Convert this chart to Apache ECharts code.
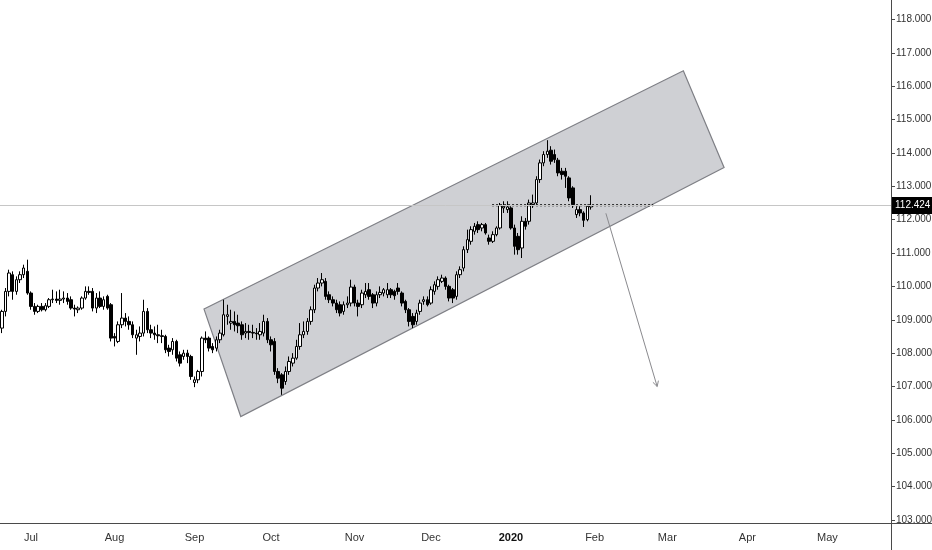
<!DOCTYPE html>
<html>
<head>
<meta charset="utf-8">
<script src="https://cdn.jsdelivr.net/npm/echarts@6.0.0/dist/echarts.min.js"></script>
<style>
  html, body { margin: 0; padding: 0; background: #fff; }
  #chart { width: 932px; height: 550px; }
</style>
</head>
<body>
<div id="chart"></div>
<script>
// daily candles, weekdays only, starting 2019-06-19
var firstDay = [2019, 5, 19];
var totalSlots = 245;   // data + empty future slots up to the right axis
var monthNames = ['2020', 'Feb', 'Mar', 'Apr', 'May', 'Jun', 'Jul', 'Aug', 'Sep', 'Oct', 'Nov', 'Dec'];

var opens = [
  108.75, 109.25, 109.85, 110.35, 109.85, 110.20, 110.35, 110.45, 109.80, 109.40,
  109.25, 109.40, 109.30, 109.40, 109.60, 109.62, 109.58, 109.62, 109.65, 109.60,
  109.35, 109.30, 109.35, 109.65, 109.85, 109.85, 109.35, 109.65, 109.40, 109.70,
  109.45, 108.50, 108.35, 108.85, 109.05, 108.95, 108.85, 108.45, 108.50, 108.60,
  109.25, 108.70, 108.60, 108.55, 108.52, 108.50, 108.15, 108.10, 108.35, 107.95,
  107.90, 108.00, 107.90, 107.12, 107.20, 107.45, 108.45, 108.45, 108.20, 108.15,
  108.40, 108.55, 109.10, 108.90, 108.95, 108.90, 108.85, 108.60, 108.65, 108.62,
  108.60, 108.55, 108.60, 108.95, 108.40, 108.35, 107.45, 107.35, 107.15, 107.45,
  107.70, 107.85, 108.20, 108.55, 108.65, 108.95, 109.30, 109.95, 110.10, 110.15,
  109.75, 109.60, 109.50, 109.45, 109.25, 109.45, 109.50, 109.98, 109.50, 109.45,
  109.75, 109.90, 109.75, 109.50, 109.75, 109.80, 109.75, 109.90, 109.85, 109.95,
  109.80, 109.55, 109.30, 109.10, 108.95, 109.25, 109.55, 109.60, 109.50, 109.85,
  110.00, 110.15, 110.25, 110.00, 109.90, 109.70, 110.35, 110.55, 111.10, 111.35,
  111.65, 111.85, 111.75, 111.85, 111.45, 111.35, 111.55, 111.75, 112.35, 112.30,
  112.35, 111.75, 111.50, 111.15, 111.95, 111.95, 112.45, 112.50, 113.20, 113.70,
  113.95, 114.08, 113.95, 113.78, 113.45, 113.45, 113.25, 112.95, 112.15, 112.30,
  112.20, 112.00, 112.38
];
var highs = [
  109.30, 109.95, 110.50, 110.45, 110.30, 110.45, 110.65, 110.80, 109.85, 109.50,
  109.45, 109.50, 109.50, 109.65, 109.90, 109.85, 109.90, 109.85, 109.80, 109.70,
  109.45, 109.40, 109.70, 110.00, 110.00, 109.95, 109.80, 109.85, 109.70, 109.75,
  109.50, 108.60, 108.95, 109.80, 109.20, 109.10, 108.95, 108.70, 108.80, 109.60,
  109.35, 108.85, 108.80, 108.85, 108.70, 108.55, 108.25, 108.45, 108.40, 108.05,
  108.10, 108.10, 107.95, 107.30, 107.50, 108.50, 108.65, 108.50, 108.30, 108.50,
  108.70, 109.60, 109.45, 109.30, 109.25, 109.15, 108.95, 108.90, 108.85, 108.85,
  108.75, 108.90, 109.15, 109.05, 108.50, 108.45, 107.55, 107.40, 107.60, 107.90,
  108.00, 108.40, 108.90, 108.95, 109.05, 109.40, 110.05, 110.25, 110.40, 110.25,
  109.85, 109.70, 109.60, 109.55, 109.55, 109.70, 110.20, 110.05, 109.60, 109.90,
  110.10, 110.10, 109.80, 109.85, 110.00, 109.95, 110.10, 109.95, 109.90, 110.10,
  109.85, 109.60, 109.35, 109.20, 109.30, 109.60, 109.70, 109.70, 110.00, 110.15,
  110.30, 110.35, 110.30, 110.05, 109.95, 110.45, 110.60, 111.20, 111.70, 111.80,
  111.90, 111.95, 111.90, 111.90, 111.55, 111.65, 111.80, 112.50, 112.55, 112.55,
  112.40, 111.85, 111.60, 112.10, 112.05, 112.60, 112.75, 113.30, 113.80, 114.05,
  114.38, 114.20, 114.10, 113.85, 113.55, 113.55, 113.30, 113.00, 112.40, 112.40,
  112.25, 112.45, 112.73
];
var lows = [
  108.60, 109.10, 109.70, 109.60, 109.75, 110.10, 110.25, 109.75, 109.30, 109.15,
  109.20, 109.25, 109.25, 109.35, 109.50, 109.50, 109.45, 109.50, 109.45, 109.30,
  109.10, 109.20, 109.30, 109.60, 109.75, 109.25, 109.20, 109.35, 109.30, 109.30,
  108.35, 108.20, 108.30, 108.75, 108.80, 108.70, 108.45, 107.95, 108.35, 108.50,
  108.60, 108.45, 108.40, 108.30, 108.30, 108.00, 107.90, 107.95, 107.75, 107.60,
  107.80, 107.70, 107.20, 106.98, 107.10, 107.30, 108.30, 108.05, 108.00, 108.05,
  108.30, 108.50, 108.85, 108.70, 108.65, 108.60, 108.40, 108.45, 108.40, 108.45,
  108.40, 108.40, 108.50, 108.30, 108.05, 107.35, 107.10, 106.75, 107.05, 107.35,
  107.60, 107.80, 108.10, 108.45, 108.55, 108.85, 109.20, 109.85, 110.00, 109.60,
  109.50, 109.40, 109.20, 109.10, 109.15, 109.35, 109.40, 109.40, 109.10, 109.35,
  109.65, 109.60, 109.35, 109.40, 109.65, 109.70, 109.65, 109.65, 109.60, 109.75,
  109.40, 109.20, 108.80, 108.75, 108.85, 109.15, 109.45, 109.40, 109.45, 109.75,
  109.90, 110.10, 109.90, 109.55, 109.50, 109.60, 110.25, 110.45, 111.00, 111.25,
  111.55, 111.60, 111.65, 111.55, 111.25, 111.30, 111.50, 111.70, 112.20, 112.20,
  111.70, 110.95, 110.95, 110.85, 111.70, 111.85, 112.35, 112.45, 113.10, 113.60,
  113.85, 113.65, 113.70, 113.30, 113.20, 112.95, 112.55, 112.35, 112.05, 112.10,
  111.78, 111.95, 112.30
];
var closes = [
  109.25, 109.85, 110.40, 109.85, 110.20, 110.35, 110.55, 109.80, 109.40, 109.25,
  109.40, 109.30, 109.42, 109.60, 109.62, 109.58, 109.62, 109.65, 109.55, 109.35,
  109.32, 109.35, 109.65, 109.85, 109.82, 109.35, 109.65, 109.40, 109.60, 109.35,
  108.45, 108.45, 108.85, 109.05, 108.95, 108.85, 108.55, 108.55, 108.60, 109.25,
  108.70, 108.60, 108.55, 108.52, 108.50, 108.10, 108.05, 108.35, 107.85, 107.70,
  108.00, 107.90, 107.30, 107.20, 107.45, 108.45, 108.40, 108.15, 108.10, 108.40,
  108.60, 109.15, 109.15, 108.95, 108.85, 108.82, 108.55, 108.65, 108.62, 108.60,
  108.58, 108.65, 108.95, 108.40, 108.25, 107.45, 107.25, 106.95, 107.45, 107.75,
  107.85, 108.20, 108.55, 108.65, 108.95, 109.30, 109.95, 110.10, 110.20, 109.70,
  109.60, 109.50, 109.30, 109.20, 109.45, 109.50, 109.98, 109.50, 109.40, 109.80,
  109.85, 109.70, 109.50, 109.75, 109.82, 109.90, 109.90, 109.75, 109.72, 109.85,
  109.50, 109.30, 108.95, 108.85, 109.20, 109.50, 109.60, 109.45, 109.90, 110.05,
  110.20, 110.25, 110.00, 109.65, 109.65, 110.35, 110.50, 111.10, 111.40, 111.70,
  111.80, 111.70, 111.85, 111.60, 111.35, 111.55, 111.75, 112.42, 112.40, 112.38,
  111.75, 111.20, 111.10, 111.95, 111.80, 112.50, 112.50, 113.20, 113.70, 113.95,
  114.05, 113.75, 113.80, 113.40, 113.35, 113.30, 112.65, 112.45, 112.30, 112.20,
  111.98, 112.40, 112.424
];
var lastPrice = 112.424;

// drawings, in slot index / price units
var channelX = [55.6, 187.4, 198.6, 65.7];
var channelY = [109.32, 116.46, 113.56, 106.10];
var arrowX = [166.1, 180.2];
var arrowY = [112.19, 107.0];
var levelX = [134.8, 179.1];
var levelY = [112.43, 112.43];

var axisFont = "'Liberation Sans', Arial, sans-serif";

var dates = [];
var d = new Date(Date.UTC(firstDay[0], firstDay[1], firstDay[2]));
while (dates.length < totalSlots) {
    var wd = d.getUTCDay();
    if (wd !== 0 && wd !== 6) dates.push(d.toISOString().slice(0, 10));
    d.setUTCDate(d.getUTCDate() + 1);
}
function isMonthStart(i) {
    return i > 0 && dates[i].slice(5, 7) !== dates[i - 1].slice(5, 7);
}

var candles = [];
for (var i = 0; i < opens.length; i++) {
    candles.push([opens[i], closes[i], lows[i], highs[i]]);
}
var channelPts = channelX.map(function (x, k) { return [x, channelY[k]]; });
var arrowPts = arrowX.map(function (x, k) { return [x, arrowY[k]]; });
var levelPts = levelX.map(function (x, k) { return [x, levelY[k]]; });

var myChart = echarts.init(document.getElementById('chart'));
var option = {
    animation: false,
    backgroundColor: '#ffffff',
    grid: { left: 0, right: 41, top: -14, bottom: 30, outerBoundsMode: 'none', containLabel: false },
    xAxis: [
        {
            type: 'category',
            data: dates,
            boundaryGap: true,
            offset: 3,
            axisLine: { onZero: false, lineStyle: { color: '#4a4a4a' } },
            axisTick: {
                alignWithLabel: true,
                length: 4,
                interval: function (idx) { return isMonthStart(idx); },
                lineStyle: { color: '#4a4a4a' }
            },
            axisLabel: {
                interval: function (idx) { return isMonthStart(idx); },
                formatter: function (val) {
                    var m = parseInt(val.slice(5, 7), 10);
                    return m === 1 ? '{b|' + monthNames[0] + '}' : monthNames[m - 1];
                },
                color: '#333',
                fontSize: 11,
                fontFamily: axisFont,
                margin: 9,
                rich: { b: { fontWeight: 'bold', fontSize: 11, color: '#111', fontFamily: axisFont } }
            },
            splitLine: { show: false }
        },
        {
            type: 'value',
            min: -0.5,
            max: totalSlots - 0.5,
            show: false
        }
    ],
    yAxis: {
        type: 'value',
        position: 'right',
        min: 103,
        max: 119,
        interval: 1,
        axisLine: { show: true, onZero: false, lineStyle: { color: '#4a4a4a' } },
        axisTick: { show: true, length: 4, lineStyle: { color: '#4a4a4a' } },
        axisLabel: {
            formatter: function (v) { return v.toFixed(3); },
            color: '#333',
            fontSize: 10,
            fontFamily: axisFont,
            margin: 5
        },
        splitLine: { show: false }
    },
    graphic: [
        { type: 'line', shape: { x1: 891.5, y1: 0, x2: 891.5, y2: 550 }, style: { stroke: '#4a4a4a', lineWidth: 1 }, silent: true },
        { type: 'line', shape: { x1: 0, y1: 523.5, x2: 932, y2: 523.5 }, style: { stroke: '#4a4a4a', lineWidth: 1 }, silent: true }
    ],
    series: [
        {
            name: 'last',
            type: 'line',
            xAxisIndex: 1,
            data: [],
            z: 0,
            markLine: {
                silent: true,
                symbol: 'none',
                precision: 3,
                lineStyle: { color: '#c6c6c6', width: 1, type: 'solid' },
                label: {
                    position: 'end',
                    distance: 1,
                    formatter: lastPrice.toFixed(3),
                    backgroundColor: '#000',
                    color: '#fff',
                    fontSize: 10,
                    fontFamily: axisFont,
                    padding: [4, 3, 3, 3]
                },
                data: [{ yAxis: lastPrice }]
            }
        },
        {
            name: 'channel',
            type: 'custom',
            xAxisIndex: 1,
            z: 1,
            silent: true,
            data: channelPts,
            renderItem: function (params, api) {
                if (params.dataIndex !== 0) return;
                var pts = channelPts.map(function (p) { return api.coord(p); });
                return {
                    type: 'polygon',
                    shape: { points: pts },
                    style: { fill: '#cfd0d4', stroke: '#7e7f85', lineWidth: 1.2 }
                };
            }
        },
        {
            name: 'arrow',
            type: 'custom',
            xAxisIndex: 1,
            z: 2,
            silent: true,
            data: arrowPts,
            renderItem: function (params, api) {
                if (params.dataIndex !== 0) return;
                var a = api.coord(arrowPts[0]);
                var b = api.coord(arrowPts[1]);
                var ang = Math.atan2(b[1] - a[1], b[0] - a[0]);
                var len = 6, spread = 0.5;
                var h1 = [b[0] - len * Math.cos(ang - spread), b[1] - len * Math.sin(ang - spread)];
                var h2 = [b[0] - len * Math.cos(ang + spread), b[1] - len * Math.sin(ang + spread)];
                var st = { stroke: '#8a8a8e', lineWidth: 1, fill: null };
                return {
                    type: 'group',
                    children: [
                        { type: 'line', shape: { x1: a[0], y1: a[1], x2: b[0], y2: b[1] }, style: st },
                        { type: 'polyline', shape: { points: [h1, b, h2] }, style: st }
                    ]
                };
            }
        },
        {
            name: 'price',
            type: 'candlestick',
            xAxisIndex: 0,
            z: 3,
            barWidth: 3,
            data: candles,
            itemStyle: {
                color: '#ffffff',
                color0: '#000000',
                borderColor: '#000000',
                borderColor0: '#000000',
                borderWidth: 1
            }
        },
        {
            name: 'level',
            type: 'line',
            xAxisIndex: 1,
            z: 4,
            silent: true,
            symbol: 'none',
            data: levelPts,
            lineStyle: { color: '#000', width: 2, type: [2, 2] }
        }
    ]
};
myChart.setOption(option);
</script>
</body>
</html>
